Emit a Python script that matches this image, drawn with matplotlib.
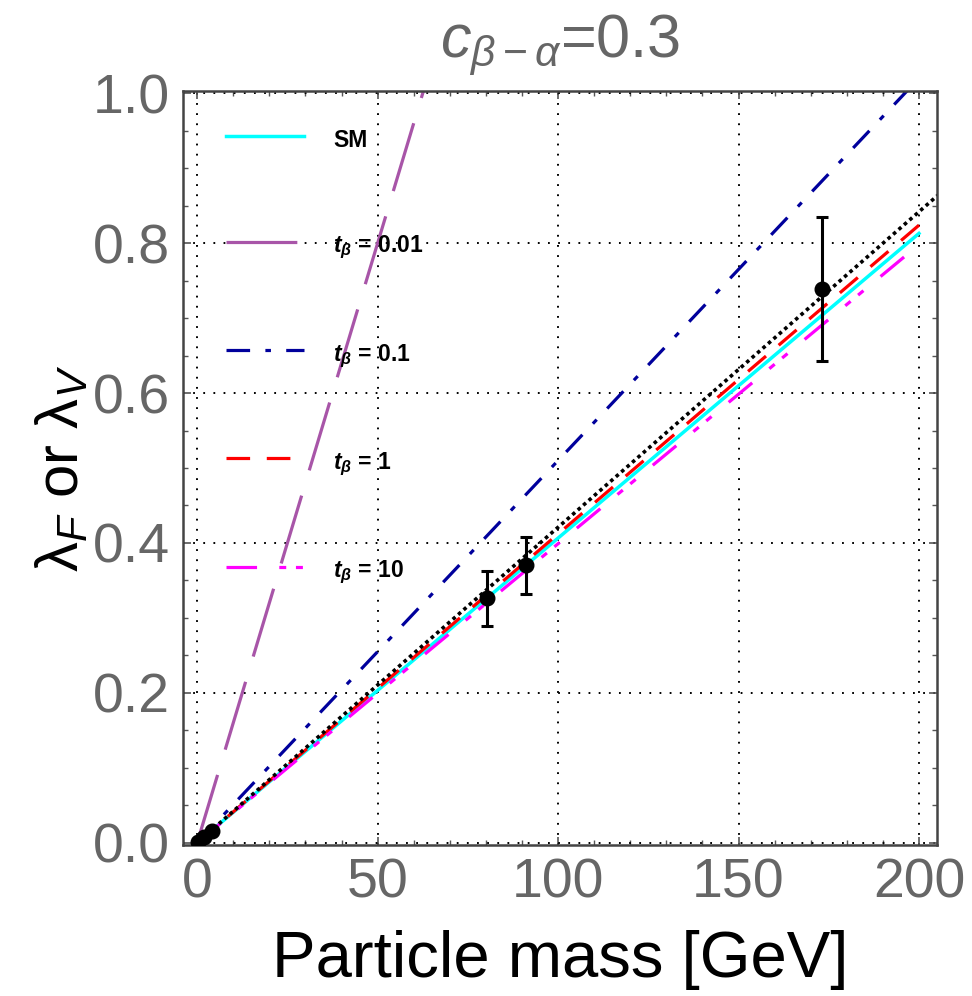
import matplotlib
matplotlib.use('Agg')
import matplotlib.pyplot as plt
from matplotlib.ticker import MultipleLocator

plt.rcParams['font.family'] = ['Liberation Sans', 'DejaVu Sans']
plt.rcParams['mathtext.fontset'] = 'custom'
plt.rcParams['mathtext.rm'] = 'Liberation Sans'
plt.rcParams['mathtext.it'] = 'Liberation Sans:italic'
plt.rcParams['mathtext.bf'] = 'Liberation Sans:bold:italic'
plt.rcParams['lines.scale_dashes'] = False

# curves: straight lines given by their end points (mass [GeV], lambda)
line_mass = [0, 200]
sm_line = [0, 0.813]
tb001_line = [0, 3.2]
tb01_line = [0, 1.02]
tb1_line = [0, 0.824]
tb10_line = [0, 0.798]
fit_mass = [0, 210]
fit_line = [0, 0.884]

# measured particles
part_mass = [0.106, 1.777, 4.18, 80.4, 91.19, 173.0]
part_lam = [0.0004, 0.0072, 0.016, 0.326, 0.370, 0.739]
part_err = [0.0, 0.0005, 0.001, 0.037, 0.038, 0.096]

gray = '#666666'

fig = plt.figure(figsize=(9.72, 9.96), dpi=100)
ax = fig.add_axes([0.188, 0.1516, 0.776, 0.7570])

ax.plot(line_mass, sm_line, color='#00ffff', lw=2.5, label='SM')
ax.plot(line_mass, tb001_line, color='#a855a8', lw=2.3, dashes=(51, 19),
        label=r'$\mathbf{t_{\beta}}$ = 0.01')
ax.plot(line_mass, tb01_line, color='#00009c', lw=2.3, dashes=(17, 11, 4, 11),
        label=r'$\mathbf{t_{\beta}}$ = 0.1')
ax.plot(line_mass, tb1_line, color='#ff0000', lw=2.3, dashes=(17, 12),
        label=r'$\mathbf{t_{\beta}}$ = 1')
ax.plot(line_mass, tb10_line, color='#ff00ff', lw=2.3, dashes=(22, 16, 5, 7, 5, 16),
        label=r'$\mathbf{t_{\beta}}$ = 10')
ax.plot(fit_mass, fit_line, color='black', lw=2.6, dashes=(2.6, 2.6))

ax.errorbar(part_mass, part_lam, yerr=part_err, fmt='o', color='black',
            ms=10.5, elinewidth=2.2, capsize=4, capthick=2.2, zorder=5)

ax.set_xlim(-4, 205)
ax.set_ylim(-0.003, 1.003)
ax.xaxis.set_major_locator(MultipleLocator(50))
ax.xaxis.set_minor_locator(MultipleLocator(10))
ax.yaxis.set_major_locator(MultipleLocator(0.2))
ax.yaxis.set_minor_locator(MultipleLocator(0.05))
ax.yaxis.set_major_formatter(plt.FuncFormatter(lambda v, p: f'{v:.1f}'))
ax.tick_params(which='both', direction='in', top=True, right=True,
               color='#555555', labelcolor=gray, labelsize=40)
ax.tick_params(which='major', length=6, width=1.2, pad=9)
ax.tick_params(which='minor', length=3.5, width=1.0)
ax.grid(True, which='major', color='black', ls=(0, (1.3, 6)), lw=1.4)
for s in ax.spines.values():
    s.set_color('#444444')
    s.set_linewidth(1.8)

ax.set_title(r'$c_{\beta-\alpha}$=0.3', color=gray, fontsize=44, pad=24)
ax.set_xlabel('Particle mass [GeV]', fontsize=47, labelpad=15)
ax.set_ylabel(r'$\mathrm{\lambda}_F$ or $\mathrm{\lambda}_V$', fontsize=43, labelpad=2)

leg = ax.legend(loc='upper left', bbox_to_anchor=(0.057, 0.955), frameon=False,
                prop={'weight': 'bold', 'size': 16.5}, handlelength=3.4,
                handleheight=1.5, handletextpad=1.3, labelspacing=3.4,
                borderpad=0, borderaxespad=0)

fig.savefig('out.png', dpi=100)
